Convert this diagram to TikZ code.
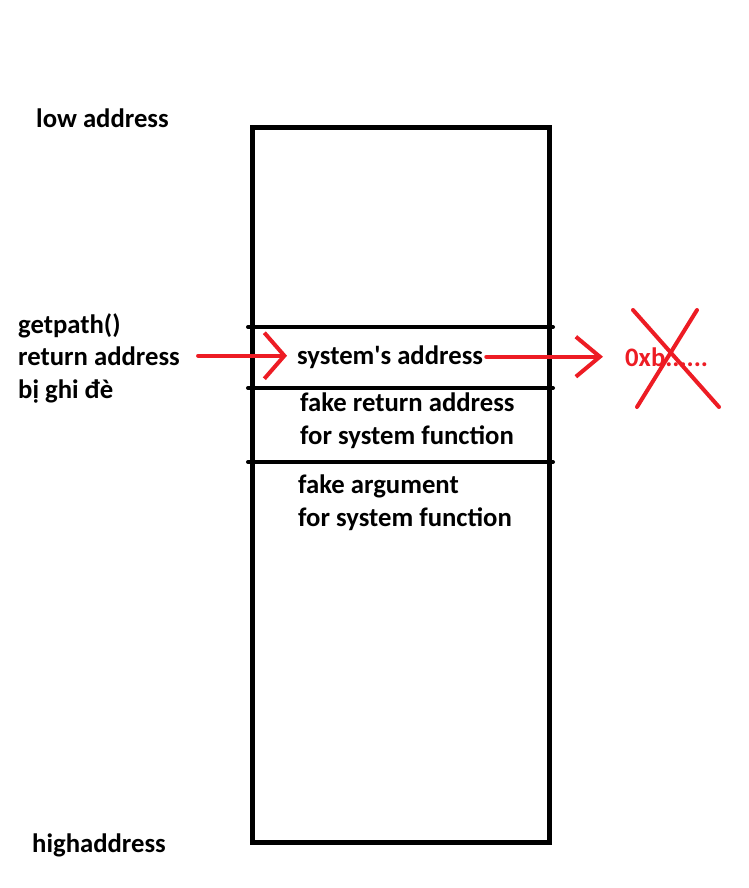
\documentclass[tikz,border=0pt]{standalone}
\usepackage{fontspec}
\setmainfont{Carlito}
\usepackage{xcolor}
\usetikzlibrary{arrows.meta,positioning}
\definecolor{paintred}{RGB}{237,28,36}

\begin{document}
\begin{tikzpicture}[x=1pt, y=-1pt, font=\fontsize{26.7}{32.5}\selectfont\bfseries,
    label text/.style={anchor=base west, inner sep=0pt, align=left},
    divider/.style={line width=4pt, line cap=round},
    redline/.style={draw=paintred, line width=4pt, line cap=round}]
    \useasboundingbox (0,0) rectangle (748,888);
    % Stack frame
    \node [rectangle, draw, line width=5pt, minimum width=297pt, minimum height=714.5pt, inner sep=0pt, outer sep=0pt, anchor=north west] (stack) at (252.5,127.5) {};
    \draw [divider] (248,327) -- (553,327);
    \draw [divider] (248,388) -- (553,388);
    \draw [divider] (248,462) -- (553,462);

    % Cells (base = last line)
    \node [label text] (sysaddr) at (297,364) {system\textquotesingle s address};
    \node [label text] (fakeret) at (300,444) {fake return address\\for system function};
    \node [label text] (fakearg) at (298,526) {fake argument\\for system function};

    % Labels
    \node [label text] (low) at (36,128) {low address};
    \node [label text] (high) at (32,852) {highaddress};
    \node [label text] (getpath) at (18,333) {getpath()};
    \node [label text] (retaddr) at (18,365) {return address};
    \node [label text] (overwritten) at (18,398) {bị ghi đè};
    \node [label text, text=paintred] (oldaddr) at (625,366) {0xb......};

    % Arrows
    \draw [redline, -{Straight Barb[length=20pt, width=46pt]}, shorten <=18pt, shorten >=10pt] (retaddr.east) -- (retaddr.east -| sysaddr.west);
    \draw [redline, -{Straight Barb[length=24pt, width=40pt]}, shorten <=3pt, shorten >=22pt] (sysaddr.east) -- (sysaddr.east -| oldaddr.west);
    \draw [redline] (633,310) -- (719,407);
    \draw [redline] (697,310) -- (637,407);
\end{tikzpicture}
\end{document}
